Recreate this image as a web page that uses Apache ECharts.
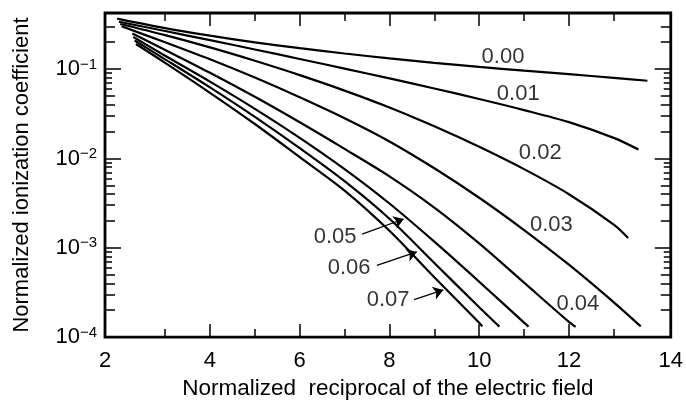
<!DOCTYPE html>
<html><head><meta charset="utf-8">
<script src="https://cdn.jsdelivr.net/npm/echarts@6/dist/echarts.min.js"></script>
<style>html,body{margin:0;padding:0;background:#fff}#c{width:686px;height:405px}</style>
</head><body><div id="c"></div>
<script>
// ---- data ----
const xMajorTicks = [4, 6, 8, 10, 12];
const xMinorTicks = [3, 5, 7, 9, 11, 13];
const xEdgeLabels = [2, 14];
const yDecades = [1e-4, 1e-3, 1e-2, 1e-1];
const yMinorLong = [2e-4,3e-4,4e-4,5e-4, 2e-3,3e-3,4e-3,5e-3, 2e-2,3e-2,4e-2,5e-2, 2e-1,3e-1];
const yMinorShort = [6e-4,7e-4,8e-4,9e-4, 6e-3,7e-3,8e-3,9e-3, 6e-2,7e-2,8e-2,9e-2];

const x000 = [1.93, 3, 4, 5, 6, 7, 8, 9, 10, 11, 12, 13, 13.75];
const y000 = [0.368, 0.288, 0.237, 0.1995, 0.1718, 0.1496, 0.1318, 0.1175, 0.1059, 0.0962, 0.0877, 0.080, 0.0741];
const x001 = [1.97, 3, 4, 5, 6, 7, 8, 9, 10, 11, 12, 13, 13.55];
const y001 = [0.339, 0.267, 0.211, 0.166, 0.130, 0.1014, 0.0787, 0.0607, 0.0463, 0.0348, 0.0255, 0.0170, 0.0126];
const x002 = [2.0, 3, 4, 5, 6, 7, 8, 9, 10, 11, 12, 13, 13.32];
const y002 = [0.320, 0.240, 0.175, 0.124, 0.0857, 0.0575, 0.0372, 0.0229, 0.0135, 0.00759, 0.00398, 0.00182, 0.00129];
const x003 = [2.03, 3, 4, 5, 6, 7, 8, 9, 10, 11, 12, 13, 13.6];
const y003 = [0.302, 0.1995, 0.1288, 0.0804, 0.0484, 0.0282, 0.0155, 0.00776, 0.00363, 0.00158, 0.000646, 0.000245, 0.000132];
const x004 = [2.27, 3, 4, 5, 6, 7, 8, 9, 10, 11, 12, 12.15];
const y004 = [0.251, 0.164, 0.0912, 0.0490, 0.0254, 0.0128, 0.00631, 0.00282, 0.00112, 0.000407, 0.000148, 0.000130];
const x005 = [2.29, 3, 4, 5, 6, 7, 8, 9, 10, 11, 11.1];
const y005 = [0.229, 0.1413, 0.0724, 0.0359, 0.0170, 0.00759, 0.00313, 0.00117, 0.000417, 0.000145, 0.000131];
const x006 = [2.32, 3, 4, 5, 6, 7, 8, 9, 10, 10.45];
const y006 = [0.209, 0.1288, 0.0624, 0.0292, 0.01303, 0.00556, 0.00211, 0.000676, 0.000216, 0.000131];
const x007 = [2.35, 3, 4, 5, 6, 7, 8, 9, 10, 10.07];
const y007 = [0.191, 0.1175, 0.0543, 0.0243, 0.01035, 0.00437, 0.00155, 0.000468, 0.000145, 0.000132];

const curveNames = ['0.00', '0.01', '0.02', '0.03', '0.04', '0.05', '0.06', '0.07'];
const labelX = [10.53, 10.87, 11.36, 11.61, 12.2, 6.79, 7.10, 7.97];
const labelY = [0.138, 0.053, 0.01146, 0.00182, 0.000238, 0.00131, 0.000593, 0.000263];
const arrowFromX = [7.39, 7.72, 8.55];
const arrowFromY = [0.00142, 0.000634, 0.000263];
const arrowToX = [8.32, 8.61, 9.20];
const arrowToY = [0.00210, 0.000899, 0.000337];

// ---- chart ----
const X_MIN = 1.66, X_MAX = 14.27, Y_MIN = 1e-4, Y_MAX = 0.425;
const FONT = "'Liberation Sans', Arial, Helvetica, sans-serif";
const BLACK = '#000';
const xs = [x000, x001, x002, x003, x004, x005, x006, x007];
const ys = [y000, y001, y002, y003, y004, y005, y006, y007];

function xAxisCfg(pos, ticks, len, labels, extra) {
  return Object.assign({
    type: 'value', position: pos, min: X_MIN, max: X_MAX,
    axisLine: { show: false }, splitLine: { show: false },
    axisTick: ticks ? { show: true, inside: true, length: len, customValues: ticks,
      lineStyle: { color: BLACK, width: 1.5 } } : { show: false },
    axisLabel: labels ? { show: true, customValues: labels, color: BLACK, fontSize: 22,
      fontFamily: FONT, margin: 13 } : { show: false }
  }, extra || {});
}
function yAxisCfg(pos, ticks, len, labels, extra) {
  return Object.assign({
    type: 'log', logBase: 10, position: pos, min: Y_MIN, max: Y_MAX,
    axisLine: { show: false }, splitLine: { show: false }, minorTick: { show: false },
    axisTick: { show: true, inside: true, length: len, customValues: ticks,
      lineStyle: { color: BLACK, width: 1.5 } },
    axisLabel: labels ? {
      show: true, customValues: labels, margin: 8,
      formatter: function (v) {
        const e = Math.round(Math.log10(v));
        return '{b|10}{s|\u2212' + Math.abs(e) + '}';
      },
      rich: {
        b: { fontSize: 22, fontFamily: FONT, color: BLACK, lineHeight: 24 },
        s: { fontSize: 15, fontFamily: FONT, color: BLACK, lineHeight: 10, verticalAlign: 'top' }
      }
    } : { show: false }
  }, extra || {});
}

const series = [];
for (let i = 0; i < xs.length; i++) {
  series.push({
    type: 'line', name: curveNames[i], xAxisIndex: 0, yAxisIndex: 0,
    data: xs[i].map((x, j) => [x, ys[i][j]]),
    smooth: 0.3, showSymbol: false, symbol: 'none',
    lineStyle: { color: BLACK, width: 2.2 }, z: 3
  });
}
series.push({
  type: 'scatter', xAxisIndex: 0, yAxisIndex: 0, symbolSize: 1,
  itemStyle: { color: 'rgba(0,0,0,0)' },
  data: curveNames.map((n, i) => [labelX[i], labelY[i], n]),
  label: { show: true, position: 'inside', formatter: p => p.data[2],
    color: BLACK, fontSize: 22, fontFamily: FONT }, z: 5
});
series.push({
  type: 'lines', coordinateSystem: 'cartesian2d', xAxisIndex: 0, yAxisIndex: 0,
  symbol: ['none', 'arrow'], symbolSize: [0, 10],
  lineStyle: { color: BLACK, width: 1.3, opacity: 1 },
  data: arrowFromX.map((x, i) => ({ coords: [[x, arrowFromY[i]], [arrowToX[i], arrowToY[i]]] })),
  z: 4
});

const option = {
  animation: false,
  backgroundColor: '#fff',
  grid: { left: 105, right: 14, top: 13, bottom: 57, show: true, borderColor: BLACK, borderWidth: 2.8,
    backgroundColor: 'transparent', containLabel: false },
  xAxis: [
    xAxisCfg('bottom', xMajorTicks, 13, xMajorTicks, {
      name: 'Normalized  reciprocal of the electric field', nameLocation: 'middle', nameGap: 38,
      nameTextStyle: { fontSize: 22.5, fontFamily: FONT, color: BLACK } }),
    xAxisCfg('bottom', xMinorTicks, 8, null),
    Object.assign(xAxisCfg('bottom', null, 0, xEdgeLabels), { min: 2, max: 14 }),
    xAxisCfg('top', xMajorTicks, 13, null),
    xAxisCfg('top', xMinorTicks, 8, null)
  ],
  yAxis: [
    yAxisCfg('left', yDecades, 16, yDecades, {
      name: 'Normalized ionization coefficient', nameLocation: 'middle', nameGap: 72,
      nameTextStyle: { fontSize: 22, fontFamily: FONT, color: BLACK } }),
    yAxisCfg('left', yMinorLong, 10, null),
    yAxisCfg('left', yMinorShort, 7, null),
    yAxisCfg('right', yDecades, 16, null),
    yAxisCfg('right', yMinorLong, 10, null),
    yAxisCfg('right', yMinorShort, 7, null)
  ],
  series: series
};
const chart = echarts.init(document.getElementById('c'), null, { renderer: 'canvas' });
chart.setOption(option);
</script></body></html>
